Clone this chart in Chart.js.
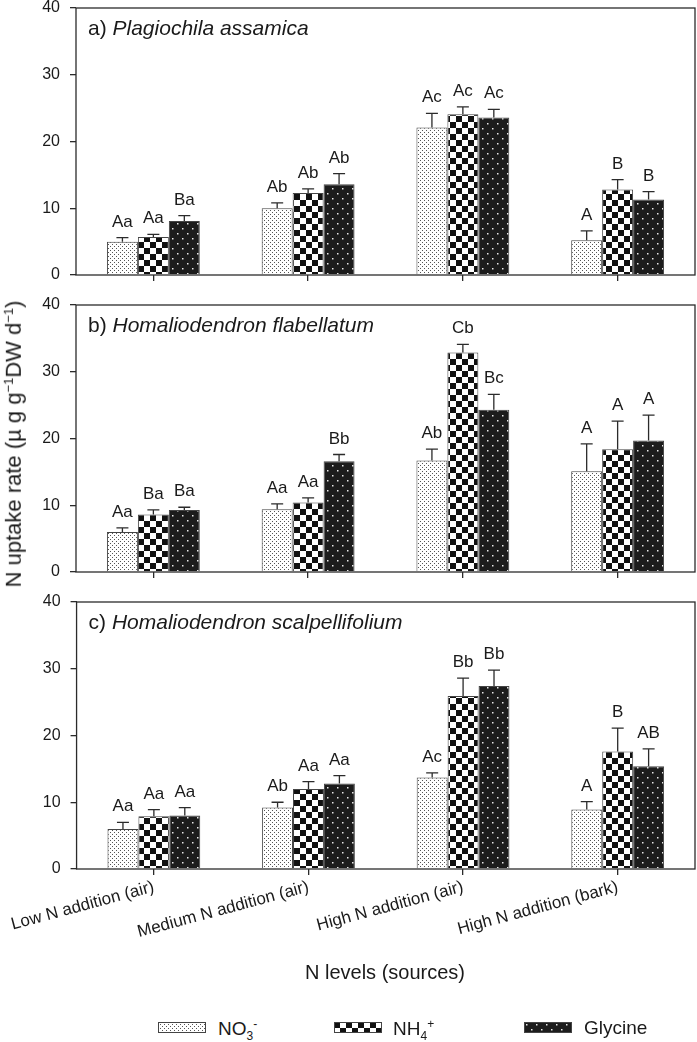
<!DOCTYPE html>
<html>
<head>
<meta charset="utf-8">
<script src="https://cdn.jsdelivr.net/npm/chart.js@4.4.1/dist/chart.umd.min.js"></script>
<style>
  html, body { margin: 0; padding: 0; background: #fff; }
  #wrap { position: relative; width: 697px; height: 1042px; overflow: hidden; font-family: "Liberation Sans", Arial, sans-serif; color: #1a1a1a; }
  .pane { position: absolute; left: 0; width: 697px; }
  #ytitle { position: absolute; left: 14px; top: 444px; transform: translate(-50%, -50%) rotate(-90deg); white-space: nowrap; font-size: 22px; }
  #xtitle { position: absolute; left: 385px; top: 972px; transform: translate(-50%, -50%); white-space: nowrap; font-size: 20px; }
  .leg { position: absolute; top: 1017px; font-size: 19px; white-space: nowrap; }
  .leg canvas { position: absolute; left: 0; top: 5px; }
  .leg span { position: absolute; top: 0; }
  sup, sub { font-size: 12px; }
  #ytitle sup { font-size: 13px; }
</style>
</head>
<body>
<div id="wrap">
  <div class="pane" style="top:-4px;height:294px"><canvas id="chartA"></canvas></div>
  <div class="pane" style="top:293px;height:294px"><canvas id="chartB"></canvas></div>
  <div class="pane" style="top:590px;height:390px"><canvas id="chartC"></canvas></div>
  <div id="ytitle">N uptake rate (µ g g<sup>−1</sup>DW d<sup>−1</sup>)</div>
  <div id="xtitle">N levels (sources)</div>
  <div class="leg" style="left:158px"><canvas id="legNO3" width="48" height="11"></canvas><span style="left:60px">NO<sub>3</sub><sup>-</sup></span></div>
  <div class="leg" style="left:334px"><canvas id="legNH4" width="48" height="11"></canvas><span style="left:59px">NH<sub>4</sub><sup>+</sup></span></div>
  <div class="leg" style="left:524px"><canvas id="legGly" width="48" height="11"></canvas><span style="left:60px">Glycine</span></div>
</div>
<script>
const categories = ['Low N addition (air)', 'Medium N addition (air)', 'High N addition (air)', 'High N addition (bark)'];
const seriesNames = ['NO3-', 'NH4+', 'Glycine'];
const yTicks = [0, 10, 20, 30, 40];

// a) Plagiochila assamica
const aNO3 = [5.0, 10.0, 22.1, 5.2];
const aNH4 = [5.7, 12.3, 24.1, 12.8];
const aGly = [8.1, 13.6, 23.6, 11.3];
const aNO3Err = [0.6, 0.8, 2.1, 1.4];
const aNH4Err = [0.4, 0.6, 1.1, 1.5];
const aGlyErr = [0.8, 1.6, 1.2, 1.2];
const aNO3Sig = ['Aa', 'Ab', 'Ac', 'A'];
const aNH4Sig = ['Aa', 'Ab', 'Ac', 'B'];
const aGlySig = ['Ba', 'Ab', 'Ac', 'B'];

// b) Homaliodendron flabellatum
const bNO3 = [6.0, 9.4, 16.7, 15.1];
const bNH4 = [8.6, 10.4, 32.9, 18.4];
const bGly = [9.3, 16.6, 24.3, 19.7];
const bNO3Err = [0.6, 0.8, 1.7, 4.1];
const bNH4Err = [0.7, 0.7, 1.2, 4.2];
const bGlyErr = [0.4, 1.0, 2.3, 3.8];
const bNO3Sig = ['Aa', 'Aa', 'Ab', 'A'];
const bNH4Sig = ['Ba', 'Aa', 'Cb', 'A'];
const bGlySig = ['Ba', 'Bb', 'Bc', 'A'];

// c) Homaliodendron scalpellifolium
const cNO3 = [6.0, 9.2, 13.7, 8.9];
const cNH4 = [7.9, 12.0, 25.9, 17.6];
const cGly = [8.0, 12.8, 27.4, 15.4];
const cNO3Err = [1.0, 0.8, 0.7, 1.2];
const cNH4Err = [1.0, 1.1, 2.7, 3.5];
const cGlyErr = [1.2, 1.2, 2.4, 2.6];
const cNO3Sig = ['Aa', 'Ab', 'Ac', 'A'];
const cNH4Sig = ['Aa', 'Aa', 'Bb', 'B'];
const cGlySig = ['Aa', 'Aa', 'Bb', 'AB'];

const FONT = '"Liberation Sans", Arial, sans-serif';
const INK = '#2b2b2b';

// fill patterns
function makePattern(kind) {
  const c = document.createElement('canvas');
  const g = c.getContext('2d');
  if (kind === 'dots') {
    c.width = 4; c.height = 4;
    g.fillStyle = '#fff'; g.fillRect(0, 0, 4, 4);
    g.fillStyle = '#555';
    g.fillRect(0, 0, 1, 1); g.fillRect(2, 2, 1, 1);
  } else if (kind === 'check') {
    c.width = 12; c.height = 12;
    g.fillStyle = '#fff'; g.fillRect(0, 0, 12, 12);
    g.fillStyle = '#111';
    g.fillRect(0, 0, 6, 6); g.fillRect(6, 6, 6, 6);
  } else {
    c.width = 10; c.height = 10;
    g.fillStyle = '#1c1c1c'; g.fillRect(0, 0, 10, 10);
    g.fillStyle = '#e8e8e8';
    g.fillRect(2, 2, 1.5, 1.5); g.fillRect(7, 7, 1.5, 1.5);
  }
  return g.createPattern(c, 'repeat');
}
const fills = [makePattern('dots'), makePattern('check'), makePattern('gly')];

// legend swatches
['legNO3', 'legNH4', 'legGly'].forEach((id, i) => {
  const g = document.getElementById(id).getContext('2d');
  g.fillStyle = fills[i]; g.fillRect(0, 0, 48, 11);
  g.strokeStyle = '#444'; g.lineWidth = 1; g.strokeRect(0.5, 0.5, 47, 10);
});

// error bars, letters, frame and panel title
const extras = {
  id: 'extras',
  afterDatasetsDraw(chart) {
    const { ctx, chartArea } = chart;
    const y = chart.scales.y;
    ctx.save();
    chart.data.datasets.forEach((ds, di) => {
      chart.getDatasetMeta(di).data.forEach((bar, i) => {
        const top = y.getPixelForValue(ds.data[i] + ds.err[i]);
        ctx.strokeStyle = INK; ctx.lineWidth = 1.3;
        ctx.beginPath();
        ctx.moveTo(bar.x, bar.y); ctx.lineTo(bar.x, top);
        ctx.moveTo(bar.x - 6, top); ctx.lineTo(bar.x + 6, top);
        ctx.stroke();
        ctx.fillStyle = '#1a1a1a';
        ctx.font = '17px ' + FONT;
        ctx.textAlign = 'center'; ctx.textBaseline = 'alphabetic';
        ctx.fillText(ds.sig[i], bar.x, top - 11);
      });
    });
    ctx.strokeStyle = INK; ctx.lineWidth = 1.3;
    ctx.strokeRect(chartArea.left, chartArea.top, chartArea.right - chartArea.left, chartArea.bottom - chartArea.top);
    const t = chart.options.plugins.panelTitle;
    ctx.fillStyle = '#1a1a1a'; ctx.textAlign = 'left';
    ctx.font = '21px ' + FONT;
    const x0 = chartArea.left + 12, yb = chartArea.top + 27;
    ctx.fillText(t.tag, x0, yb);
    const w = ctx.measureText(t.tag).width;
    ctx.font = 'italic 21px ' + FONT;
    ctx.fillText(t.species, x0 + w, yb);
    ctx.restore();
  }
};

function panel(id, tag, species, vals, errs, sigs, showLabels) {
  const datasets = seriesNames.map((name, k) => ({
    label: name,
    data: vals[k],
    err: errs[k],
    sig: sigs[k],
    backgroundColor: fills[k],
    borderColor: '#444',
    borderWidth: 1,
    categoryPercentage: 0.6,
    barPercentage: 1.0
  }));
  return new Chart(document.getElementById(id), {
    type: 'bar',
    data: { labels: categories, datasets },
    options: {
      responsive: true,
      maintainAspectRatio: false,
      animation: false,
      layout: { padding: { top: 12, right: 2, left: 0, bottom: 0 } },
      plugins: {
        legend: { display: false },
        tooltip: { enabled: false },
        panelTitle: { tag, species }
      },
      scales: {
        x: {
          grid: { offset: false, drawOnChartArea: false, drawTicks: true, tickLength: 6, color: INK, lineWidth: 1.3 },
          border: { display: false },
          ticks: {
            autoSkip: false,
            maxRotation: 15, minRotation: 15,
            padding: 2,
            color: '#1a1a1a',
            font: { family: FONT, size: 17 },
            callback: (v, i) => showLabels ? categories[i] : ''
          },
          afterFit: (s) => { s.height = showLabels ? 111 : 15; }
        },
        y: {
          min: 0, max: 40,
          grid: { drawOnChartArea: false, drawTicks: true, tickLength: 6, color: INK, lineWidth: 1.3 },
          border: { display: false },
          ticks: {
            stepSize: 10,
            padding: 10,
            color: '#1a1a1a',
            font: { family: FONT, size: 16 },
            callback: (v) => yTicks.includes(v) ? v : ''
          },
          afterFit: (s) => { s.width = 76; s.paddingTop = 8; s.paddingBottom = 8; }
        }
      }
    },
    plugins: [extras]
  });
}

panel('chartA', 'a) ', 'Plagiochila assamica',
  [aNO3, aNH4, aGly], [aNO3Err, aNH4Err, aGlyErr], [aNO3Sig, aNH4Sig, aGlySig], false);
panel('chartB', 'b) ', 'Homaliodendron flabellatum',
  [bNO3, bNH4, bGly], [bNO3Err, bNH4Err, bGlyErr], [bNO3Sig, bNH4Sig, bGlySig], false);
panel('chartC', 'c) ', 'Homaliodendron scalpellifolium',
  [cNO3, cNH4, cGly], [cNO3Err, cNH4Err, cGlyErr], [cNO3Sig, cNH4Sig, cGlySig], true);
</script>
</body>
</html>
